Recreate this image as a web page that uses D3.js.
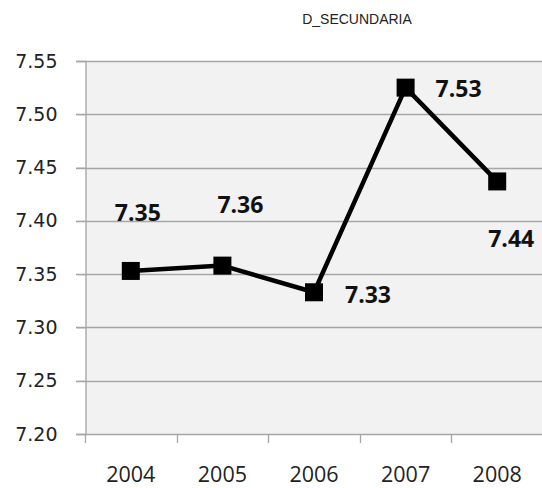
<!DOCTYPE html>
<html><head><meta charset="utf-8">
<script src="https://cdn.jsdelivr.net/npm/d3@7/dist/d3.min.js"></script>
<style>body{margin:0;background:#fff}svg{display:block}</style>
</head><body>
<svg id="c" width="542" height="488"></svg>
<script>
const title = "D_SECUNDARIA";
const years = ["2004","2005","2006","2007","2008"];
const values = [7.353, 7.358, 7.333, 7.525, 7.437];
const labels = ["7.35","7.36","7.33","7.53","7.44"];
const yTicks = [7.20,7.25,7.30,7.35,7.40,7.45,7.50,7.55];

// label offsets relative to the point (style, not data)
const labelOffsets = [[7,-59],[18,-62],[54,2],[53,0],[14,57]];

const svg = d3.select("#c");
const m = {left:85, right:543, top:61, bottom:434};
const x = d3.scaleBand().domain(years).range([m.left, m.right]);
const y = d3.scaleLinear().domain([7.20,7.55]).range([m.bottom, m.top]);

svg.append("rect").attr("x",m.left).attr("y",m.top)
  .attr("width",m.right-m.left+5).attr("height",m.bottom-m.top).attr("fill","#f2f2f2");

// gridlines
svg.append("g").selectAll("line").data(yTicks).join("line")
  .attr("x1",76).attr("x2",548)
  .attr("y1",d=>Math.round(y(d))+0.5).attr("y2",d=>Math.round(y(d))+0.5)
  .attr("stroke","#a6a6a6").attr("stroke-width",1.3);

// y axis
const ya = svg.append("g").attr("transform",`translate(${m.left+0.5},0)`)
  .call(d3.axisLeft(y).tickValues(yTicks).tickFormat(d3.format(".2f")).tickSize(9).tickPadding(19));
ya.select(".domain").attr("stroke","#a6a6a6").attr("stroke-width",1.3);
ya.selectAll(".tick line").attr("stroke","#a6a6a6");
ya.selectAll("text").attr("font-family","'DejaVu Sans', sans-serif").attr("font-size",19).attr("fill","#222");

// x axis
const xa = svg.append("g").attr("transform",`translate(0,${m.bottom+0.5})`)
  .call(d3.axisBottom(x).tickSize(0).tickPadding(32));
xa.select(".domain").remove();
xa.selectAll("text").attr("font-family","'Open Sans', sans-serif").attr("font-size",21.5).attr("fill","#222");
// category boundary ticks
const bounds = years.map(d=>x(d));
svg.append("g").selectAll("line").data(bounds).join("line")
  .attr("x1",d=>Math.round(d)+0.5).attr("x2",d=>Math.round(d)+0.5)
  .attr("y1",m.bottom).attr("y2",m.bottom+9)
  .attr("stroke","#a6a6a6").attr("stroke-width",1.3);

const cx = d=>x(d)+x.bandwidth()/2;
const line = d3.line().x((d,i)=>cx(years[i])).y(d=>y(d));
svg.append("path").datum(values).attr("d",line)
  .attr("fill","none").attr("stroke","#000").attr("stroke-width",4.5).attr("stroke-linejoin","round");

svg.append("g").selectAll("rect").data(values).join("rect")
  .attr("x",(d,i)=>cx(years[i])-9).attr("y",d=>y(d)-9)
  .attr("width",18).attr("height",18).attr("fill","#000");

svg.append("g").selectAll("text").data(labels).join("text")
  .attr("x",(d,i)=>cx(years[i])+labelOffsets[i][0])
  .attr("y",(d,i)=>y(values[i])+labelOffsets[i][1])
  .attr("text-anchor","middle").attr("dominant-baseline","central")
  .attr("font-family","'Open Sans', sans-serif").attr("font-weight","bold")
  .attr("font-size",23).attr("fill","#111").text(d=>d);

svg.append("text").attr("x",357).attr("y",19).attr("text-anchor","middle")
  .attr("dominant-baseline","central").attr("font-family","'Liberation Sans', Arial, sans-serif")
  .attr("font-size",14).attr("fill","#222").text(title);
</script>
</body></html>
